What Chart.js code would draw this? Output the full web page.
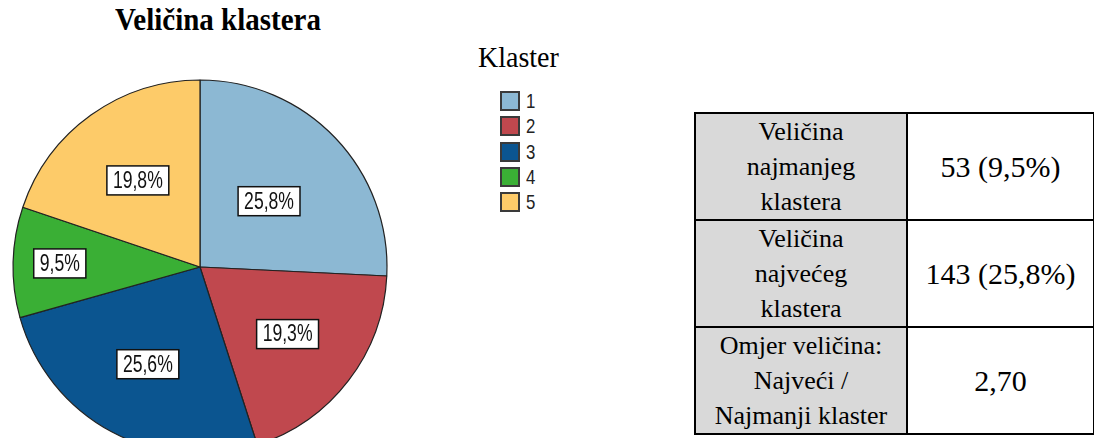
<!DOCTYPE html>
<html>
<head>
<meta charset="utf-8">
<script src="https://cdn.jsdelivr.net/npm/chart.js@4"></script>
<style>
  html, body { margin: 0; padding: 0; background: #fff; overflow: hidden; width: 1094px; height: 438px; }
  #title { position: absolute; left: 0; width: 436px; top: 3px; text-align: center; font-family: "Liberation Serif", "Times New Roman", serif; font-weight: bold; font-size: 29px; color: #000; transform: scaleY(1.08); }
  #pieWrap { position: absolute; left: 0; top: 0; width: 400px; height: 534px; }
  #legend { position: absolute; left: 478px; top: 40px; }
  #legend .lt { font-family: "Liberation Serif", "Times New Roman", serif; font-size: 28px; color: #000; height: 50px; line-height: 36px; transform: scaleY(1.08); }
  #legend .item { position: absolute; left: 22px; height: 19px; }
  #legend .sw { position: absolute; left: 0; top: 0; width: 16px; height: 16px; border: 2px solid #3a3a3a; }
  #legend .lab { position: absolute; left: 26px; top: -2px; font-family: "Liberation Sans", Arial, sans-serif; font-size: 21px; color: #222; transform: scaleX(0.8); transform-origin: left; }
  table { position: absolute; left: 694px; top: 112px; width: 401px; border-collapse: collapse; color: #000; }
  td { border: 2px solid #000; text-align: center; vertical-align: middle; height: 103px; padding: 0; line-height: 35px;
       font-family: "Liberation Serif", "Times New Roman", serif; font-size: 30px; }
  td.h { background: #d9d9d9; width: 210px; font-size: 26px; }
</style>
</head>
<body>
<div id="title">Veličina klastera</div>
<div id="pieWrap"><canvas id="pie" width="400" height="534"></canvas></div>
<div id="legend"></div>
<table id="stats"></table>

<script>
// ---------- data ----------
const legendTitle = "Klaster";
const clusterLabels = ["1", "2", "3", "4", "5"];
const clusterSizes = [143, 107, 142, 53, 110];
const clusterColors = ["#8cb8d3", "#c0484e", "#0b5590", "#3aaf35", "#fdcb69"];

const total = clusterSizes.reduce((a, b) => a + b, 0);
const pct = (v) => (v / total * 100).toFixed(1).replace(".", ",");

// ---------- legend (HTML) ----------
const legend = document.getElementById("legend");
legend.innerHTML = '<div class="lt">' + legendTitle + '</div>';
clusterLabels.forEach((lab, i) => {
  const it = document.createElement("div");
  it.className = "item";
  it.style.top = (51 + i * 25.3) + "px";
  it.innerHTML = '<div class="sw" style="background:' + clusterColors[i] + '"></div><div class="lab">' + lab + '</div>';
  legend.appendChild(it);
});

// ---------- table ----------
const minSize = Math.min(...clusterSizes);
const maxSize = Math.max(...clusterSizes);
const rows = [
  ["Veličina<br>najmanjeg<br>klastera", minSize + " (" + pct(minSize) + "%)"],
  ["Veličina<br>najvećeg<br>klastera", maxSize + " (" + pct(maxSize) + "%)"],
  ["Omjer veličina:<br>Najveći /<br>Najmanji klaster", (maxSize / minSize).toFixed(2).replace(".", ",")]
];
document.getElementById("stats").innerHTML = rows
  .map((r) => '<tr><td class="h">' + r[0] + '</td><td>' + r[1] + '</td></tr>')
  .join("");

// ---------- percent labels in boxes ----------
const boxLabels = {
  id: "boxLabels",
  afterDatasetsDraw(chart, args, opts) {
    const ctx = chart.ctx;
    const meta = chart.getDatasetMeta(0);
    const values = chart.data.datasets[0].data;
    meta.data.forEach((arc, i) => {
      const p = arc.getProps(["x", "y", "startAngle", "endAngle", "outerRadius"], true);
      const mid = (p.startAngle + p.endAngle) / 2;
      const r = p.outerRadius * opts.radius[i];
      const cx = p.x + Math.cos(mid) * r;
      const cy = p.y + Math.sin(mid) * r;
      const txt = pct(values[i]) + "%";
      ctx.save();
      ctx.font = '22px "Liberation Sans", sans-serif';
      const w = ctx.measureText(txt).width * opts.squeeze + 12;
      const h = 29;
      ctx.fillStyle = "#fff";
      ctx.strokeStyle = "#111";
      ctx.lineWidth = 1.5;
      ctx.fillRect(cx - w / 2, cy - h / 2, w, h);
      ctx.strokeRect(cx - w / 2, cy - h / 2, w, h);
      ctx.translate(cx, cy + 1);
      ctx.scale(opts.squeeze, 1.05);
      ctx.fillStyle = "#111";
      ctx.textAlign = "center";
      ctx.textBaseline = "middle";
      ctx.fillText(txt, 0, 0);
      ctx.restore();
    });
  }
};

new Chart(document.getElementById("pie"), {
  type: "pie",
  data: {
    labels: clusterLabels,
    datasets: [{
      data: clusterSizes,
      backgroundColor: clusterColors,
      borderColor: "#222",
      borderWidth: 1.2
    }]
  },
  options: {
    responsive: false,
    animation: false,
    radius: 187,
    events: [],
    layout: { padding: 0 },
    plugins: {
      legend: { display: false },
      tooltip: { enabled: false },
      boxLabels: { radius: [0.51, 0.59, 0.59, 0.75, 0.57], squeeze: 0.8 }
    }
  },
  plugins: [boxLabels]
});
</script>
</body>
</html>
